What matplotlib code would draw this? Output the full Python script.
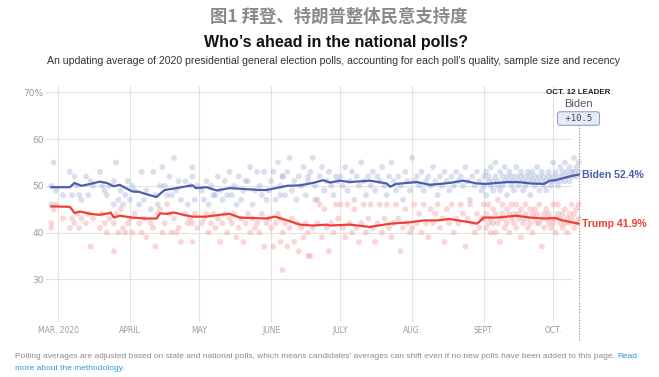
import matplotlib
matplotlib.use("Agg")
import matplotlib.pyplot as plt
import numpy as np

# ---------------- data ----------------
month_days = [0, 31, 61, 92, 122, 153, 184, 214]   # days since Mar 1, 2020
month_labels = ["MAR. 2020", "APRIL", "MAY", "JUNE", "JULY", "AUG.", "SEPT.", "OCT."]
y_ticks = [30, 40, 50, 60, 70]
y_labels = ["30", "40", "50", "60", "70%"]

# individual polls: day, Biden %, Trump %
poll_day = [
    -3, -3, -2, -1, 2, 5, 6, 7, 8, 9, 10, 12, 13, 14, 15, 18, 19, 20, 21, 22, 24, 24, 25, 26, 27, 28, 29, 30,
    31, 32, 33, 35, 36, 37, 38, 40, 41, 42, 43, 44, 45, 46, 47, 48, 49, 50, 51, 52, 53, 55, 56, 57, 58, 58, 59, 60,
    62, 63, 64, 65, 66, 67, 68, 69, 70, 71, 72, 73, 74, 75, 76, 77, 78, 79, 80, 81, 82, 83, 84, 85, 86, 87, 88, 89, 90, 91,
    92, 93, 94, 95, 96, 96, 97, 97, 98, 99, 100, 101, 102, 103, 104, 105, 106, 107, 108, 108, 109, 110, 111, 112, 113, 114, 115, 116, 117, 118, 119, 120, 121,
    122, 123, 124, 125, 126, 127, 128, 129, 130, 131, 132, 133, 134, 135, 136, 137, 138, 139, 140, 141, 142, 143, 144, 145, 146, 147, 148, 149, 150, 151, 152,
    153, 154, 155, 156, 157, 158, 159, 160, 161, 162, 163, 164, 165, 166, 167, 168, 169, 170, 171, 172, 173, 174, 175, 176, 177, 178, 179, 180, 181, 182, 183,
    184, 184, 185, 185, 186, 186, 187, 187, 188, 188, 189, 189, 190, 190, 191, 191, 192, 192, 193, 193, 194, 194, 195, 195, 196, 196, 197, 197, 198, 198,
    199, 199, 200, 200, 201, 201, 202, 202, 203, 203, 204, 204, 205, 205, 206, 206, 207, 207, 208, 208, 209, 209, 210, 210, 211, 211, 212, 212, 213, 213,
    214, 214, 215, 215, 216, 216, 217, 217, 218, 218, 219, 219, 220, 220, 221, 221, 222, 222, 223, 223, 224, 224, 225, 225,
]
biden_poll = [
    50, 46, 55, 49, 48, 53, 48, 52, 50, 48, 47, 52, 48, 51, 50, 53, 50, 49, 48, 50, 46, 51, 55, 47, 49, 46, 48, 51,
    47, 50, 49, 46, 53, 47, 49, 45, 53, 48, 46, 50, 54, 50, 48, 52, 48, 56, 49, 51, 47, 51, 46, 50, 54, 52, 47, 50,
    49, 47, 51, 46, 50, 48, 48, 52, 49, 47, 51, 48, 53, 48, 50, 46, 52, 47, 49, 51, 51, 54, 46, 49, 53, 50, 48, 53, 47, 49,
    51, 53, 47, 55, 50, 48, 52, 52, 48, 53, 56, 49, 51, 47, 52, 50, 54, 48, 51, 52, 53, 56, 50, 47, 52, 54, 49, 51, 53, 50, 48, 52, 51,
    52, 50, 54, 49, 51, 53, 47, 52, 50, 55, 51, 48, 52, 50, 53, 49, 52, 51, 54, 50, 48, 52, 55, 51, 49, 52, 50, 47, 53, 51, 49,
    56, 51, 52, 50, 53, 49, 51, 52, 50, 54, 51, 48, 52, 50, 53, 51, 49, 52, 50, 53, 51, 52, 50, 54, 51, 47, 52, 50, 53, 51, 49,
    52, 50, 53, 48, 51, 52, 50, 54, 51, 49, 52, 55, 50, 51, 53, 49, 52, 50, 51, 54, 52, 48, 53, 51, 50, 52, 51, 49, 52, 54,
    50, 51, 53, 52, 49, 51, 52, 50, 53, 51, 48, 52, 51, 53, 50, 52, 54, 51, 49, 52, 51, 53, 50, 52, 51, 49, 53, 52, 51, 50,
    52, 55, 51, 53, 52, 50, 54, 51, 53, 52, 51, 55, 53, 52, 54, 51, 53, 52, 56, 53, 52, 54, 53, 55,
]
trump_poll = [
    42, 41, 45, 46, 43, 41, 43, 42, 44, 41, 43, 42, 44, 37, 43, 41, 44, 42, 40, 43, 36, 42, 44, 40, 45, 41, 40, 42,
    43, 40, 44, 42, 40, 43, 39, 42, 41, 37, 44, 45, 40, 42, 46, 44, 40, 43, 40, 41, 38, 44, 42, 43, 38, 42, 44, 41,
    42, 43, 44, 40, 42, 44, 41, 43, 38, 42, 44, 40, 43, 42, 44, 39, 41, 43, 38, 42, 44, 40, 43, 41, 42, 40, 44, 37, 42, 43,
    41, 37, 42, 44, 38, 43, 40, 32, 42, 37, 41, 43, 38, 42, 36, 41, 39, 42, 40, 35, 35, 41, 47, 42, 46, 39, 45, 41, 36, 42, 40, 46, 43,
    46, 41, 39, 46, 42, 40, 45, 41, 38, 42, 46, 40, 43, 46, 41, 38, 42, 46, 40, 43, 46, 41, 39, 42, 46, 43, 36, 41, 45, 42, 40,
    41, 46, 42, 44, 40, 46, 42, 39, 45, 42, 44, 46, 41, 43, 38, 45, 42, 46, 40, 43, 42, 46, 44, 37, 43, 46, 42, 40, 44, 41, 43,
    43, 46, 41, 44, 42, 46, 40, 43, 45, 42, 44, 40, 47, 42, 43, 38, 44, 46, 41, 43, 45, 42, 44, 40, 46, 43, 42, 44, 46, 41,
    43, 44, 39, 45, 43, 42, 46, 44, 41, 43, 45, 42, 44, 40, 43, 45, 42, 44, 46, 42, 43, 37, 44, 41, 43, 45, 42, 44, 41, 43,
    42, 46, 43, 40, 44, 46, 42, 43, 41, 44, 45, 42, 43, 40, 44, 42, 46, 43, 41, 44, 42, 45, 43, 46,
]

# polling averages
biden_avg_day = [-3, 5, 7, 10, 13, 18, 21, 24, 26.5, 32, 35, 38, 42.5, 44, 46, 51, 55.5, 58, 59.5, 64, 68.5, 74, 81,
                 87, 90, 94, 99, 104.5, 110, 114.5, 117.5, 121.7, 126, 134.7, 142, 143.5, 146, 155, 160.7, 169, 175,
                 181, 185, 194, 199, 204, 210, 212.5, 215, 218, 221, 225]
biden_avg = [49.7, 49.7, 50.6, 50.0, 50.3, 50.9, 50.6, 49.9, 50.2, 48.8, 48.7, 48.2, 47.6, 48.3, 49.1, 49.5, 49.9, 50.1,
             49.5, 49.7, 49.0, 49.5, 49.3, 49.1, 49.1, 49.5, 50.0, 50.1, 50.6, 51.2, 50.7, 51.1, 50.8, 51.1, 50.5, 49.8,
             50.4, 50.8, 50.2, 50.6, 51.1, 50.5, 50.4, 50.8, 50.8, 50.5, 50.4, 51.1, 51.2, 51.6, 52.0, 52.4]
trump_avg_day = [-3, 5, 7, 9.5, 13.7, 17.6, 21.7, 22.6, 24, 26.5, 32, 38, 42.5, 44, 47, 50, 54, 58, 64, 70, 74, 78.5,
                 84, 90, 93.6, 99, 104.5, 110, 116, 117.5, 126, 134.7, 143.5, 152, 158, 164, 169, 178, 181, 184, 189.5,
                 198, 204, 210, 215, 218, 225]
trump_avg = [45.6, 45.5, 44.2, 44.5, 44.0, 43.8, 44.1, 44.3, 43.2, 43.6, 43.2, 43.0, 43.0, 44.1, 44.0, 44.3, 43.8, 43.4,
             43.4, 43.8, 44.0, 43.2, 43.1, 43.0, 43.4, 42.6, 41.7, 41.5, 41.7, 41.5, 41.7, 41.2, 41.9, 42.2, 42.6, 42.6,
             42.9, 42.2, 41.9, 43.2, 43.2, 43.6, 43.2, 43.0, 43.1, 42.6, 41.9]

leader_name = "Biden"
leader_margin = "+10.5"

BLUE = "#4a5eae"
RED = "#ee3f36"

# ---------------- figure ----------------
W, H = 659, 377
fig = plt.figure(figsize=(W / 100, H / 100), dpi=100)
fig.patch.set_facecolor("white")

ax_l, ax_r, ax_t, ax_b = 45, 590, 86, 322
ax = fig.add_axes([ax_l / W, 1 - ax_b / H, (ax_r - ax_l) / W, (ax_b - ax_t) / H])
px_per_day = 2.313
x0_px = 58.3
ax.set_xlim((ax_l - x0_px) / px_per_day, (ax_r - x0_px) / px_per_day)
py70, py30 = 92.3, 279.3
ppu = (py30 - py70) / 40
ax.set_ylim(30 - (ax_b - py30) / ppu, 70 + (py70 - ax_t) / ppu)
for s in ax.spines.values():
    s.set_visible(False)

xmin = ax.get_xlim()[0]
for d in month_days:
    ax.axvline(d, color="#e2e2e2", lw=0.8, zorder=0)
ax.hlines(y_ticks, xmin, 222, color="#e2e2e2", lw=0.8, zorder=0)

ax.set_xticks(month_days)
ax.set_xticklabels(month_labels, fontsize=5.5, color="#9a9a9a", family="DejaVu Sans")
ax.set_yticks(y_ticks)
ax.set_yticklabels(y_labels, fontsize=6.5, color="#9a9a9a", family="DejaVu Sans")
ax.tick_params(axis="x", length=0, pad=3)
ax.tick_params(axis="y", length=0, pad=1)

ax.scatter(poll_day, trump_poll, s=18, color="#f27a7a", alpha=0.30, edgecolors="none", zorder=2)
ax.scatter(poll_day, biden_poll, s=18, color="#8595d0", alpha=0.30, edgecolors="none", zorder=2)
ax.plot(trump_avg_day, trump_avg, color=RED, lw=1.6, zorder=4, solid_joinstyle="round")
ax.plot(biden_avg_day, biden_avg, color=BLUE, lw=1.6, zorder=4, solid_joinstyle="round")

# end labels
ax.text(226.3, biden_avg[-1], f"Biden {biden_avg[-1]:.1f}%", color=BLUE, fontsize=7.6,
        fontweight="bold", family="Liberation Sans", va="center", ha="left", clip_on=False)
ax.text(226.3, trump_avg[-1], f"Trump {trump_avg[-1]:.1f}%", color=RED, fontsize=7.6,
        fontweight="bold", family="Liberation Sans", va="center", ha="left", clip_on=False)

# dotted leader line
def py2val(py):
    return 70 - (py - py70) / ppu
ax.plot([225, 225], [py2val(340), py2val(125)], color="#888888", lw=0.8, ls=(0, (1, 1.5)),
        clip_on=False, zorder=3)

def fx(px):
    return px / W
def fy(py):
    return 1 - py / H

fig.text(fx(578), fy(92), "OCT. 12 LEADER", fontsize=5.8, fontweight="bold", color="#222222",
         ha="center", va="center", family="Liberation Sans")
fig.text(fx(578), fy(104), leader_name, fontsize=8, color="#555555", ha="center", va="center",
         family="Liberation Sans")
fig.text(fx(578.5), fy(118.5), " " + leader_margin + " ", fontsize=6.5,
         color="#444444", ha="center", va="center", family="DejaVu Sans Mono",
         bbox=dict(boxstyle="round,pad=0.25,rounding_size=0.3", facecolor="#e7eaf7", edgecolor="#8796cc", lw=0.7))

# titles
fig.text(0.514, fy(17), "图1 拜登、特朗普整体民意支持度", fontsize=12.5, fontweight="bold", color="#8a8a8a",
         ha="center", va="center", family=["Noto Sans CJK SC", "DejaVu Sans"])
fig.text(0.510, fy(42), "Who’s ahead in the national polls?", fontsize=11.5, fontweight="bold",
         color="#111111", ha="center", va="center", family=["Liberation Sans Narrow", "Liberation Sans"])
fig.text(0.506, fy(61), "An updating average of 2020 presidential general election polls, accounting for each poll’s quality, sample size and recency",
         fontsize=7.6, color="#333333", ha="center", va="center", family=["Liberation Sans Narrow", "Liberation Sans"])

# footnote
foot1 = "Polling averages are adjusted based on state and national polls, which means candidates’ averages can shift even if no new polls have been added to this page. "
t1 = fig.text(fx(15), fy(357), foot1, fontsize=6.0, color="#8a8a8a", ha="left", va="center",
              family="Liberation Sans")
fig.canvas.draw()
bb = t1.get_window_extent(fig.canvas.get_renderer())
fig.text(bb.x1 / W, fy(357), "Read", fontsize=6.0, color="#2e9bd6", ha="left", va="center",
         family="Liberation Sans")
fig.text(fx(15), fy(369), "more about the methodology.", fontsize=6.0, color="#2e9bd6", ha="left",
         va="center", family="Liberation Sans")

fig.savefig("out.png", dpi=100)
